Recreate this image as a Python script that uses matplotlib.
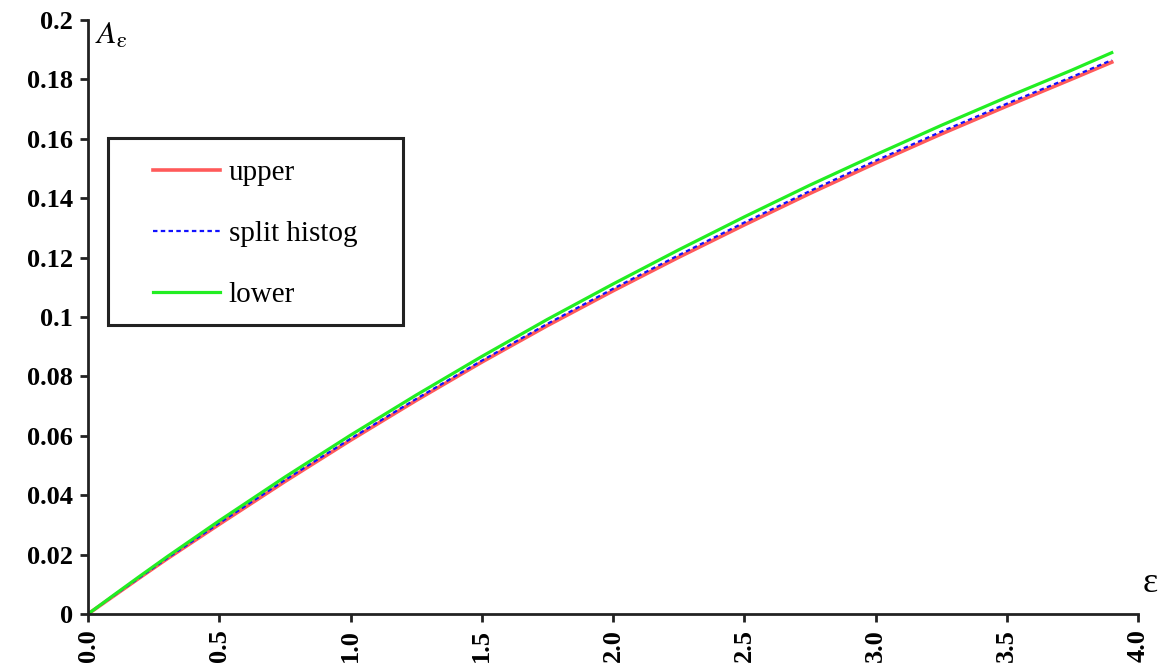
import numpy as np
import matplotlib.pyplot as plt
from matplotlib.patches import Rectangle

plt.rcParams['font.family'] = ['Liberation Serif', 'DejaVu Serif']

eps = [0.0, 0.1, 0.2, 0.3, 0.5, 0.75, 1.0, 1.25, 1.5, 1.75, 2.0, 2.25, 2.5, 2.75, 3.0, 3.25, 3.5, 3.75, 3.9]
upper = [0.0, 0.0062, 0.0124, 0.0185, 0.0302, 0.0446, 0.0585, 0.0719, 0.0848, 0.0971, 0.1088, 0.1201, 0.1310, 0.1416, 0.1518, 0.1616, 0.1710, 0.1802, 0.1858]
split = [0.0, 0.0063, 0.0125, 0.0187, 0.0306, 0.0451, 0.0590, 0.0724, 0.0853, 0.0977, 0.1095, 0.1208, 0.1318, 0.1424, 0.1526, 0.1624, 0.1718, 0.1809, 0.1865]
lower = [0.0, 0.0065, 0.0129, 0.0192, 0.0314, 0.0461, 0.0602, 0.0737, 0.0867, 0.0992, 0.1111, 0.1226, 0.1337, 0.1444, 0.1546, 0.1645, 0.1740, 0.1832, 0.1890]

xticks = [0.0, 0.5, 1.0, 1.5, 2.0, 2.5, 3.0, 3.5, 4.0]
yticks = [0, 0.02, 0.04, 0.06, 0.08, 0.1, 0.12, 0.14, 0.16, 0.18, 0.2]
ytick_labels = ['0', '0.02', '0.04', '0.06', '0.08', '0.1', '0.12', '0.14', '0.16', '0.18', '0.2']

W, H = 1173, 670
fig = plt.figure(figsize=(W/100, H/100), dpi=100)
ax = fig.add_axes([88/W, 56/H, (1138-88)/W, (614-20)/H])

ax.plot(eps, upper, color='#ff5a5a', lw=2.6, label='upper')
ax.plot(eps, split, color='#1010ff', lw=1.6, ls=(0, (2, 1.5)), label='split histog')
ax.plot(eps, lower, color='#22ee22', lw=2.3, label='lower')

ax.set_xlim(0, 4.0)
ax.set_ylim(0, 0.2)
ax.set_xticks(xticks)
ax.set_xticklabels(['%.1f' % v for v in xticks], rotation=90, fontsize=19, fontweight='bold')
ax.set_yticks(yticks)
ax.set_yticklabels(ytick_labels, fontsize=19, fontweight='bold')
ax.spines['top'].set_visible(False)
ax.spines['right'].set_visible(False)
for s in ['left', 'bottom']:
    ax.spines[s].set_linewidth(2)
    ax.spines[s].set_color('#222222')
ax.tick_params(direction='out', length=6, width=2, color='#222222', pad=5)

fig.text(95/W, 1-22/H, r'$A_{\mathrm{ε}}$', fontsize=23, va='top', ha='left',
         math_fontfamily='stix')
fig.text(1150/W, 1-600/H, 'ε', fontsize=26, va='bottom', ha='center')

# legend frame
fig.patches.append(Rectangle((108/W, 1-325/H), 295/W, 187/H, transform=fig.transFigure,
                             fill=False, edgecolor='#222222', lw=2.2))
leg = ax.legend(loc='upper left', bbox_to_anchor=(153/W, 1-160/H),
                bbox_transform=fig.transFigure, fontsize=21, frameon=False,
                handlelength=2.3, labelspacing=1.18, borderpad=0,
                handletextpad=0.3, borderaxespad=0)

fig.savefig('out.png', dpi=100)
